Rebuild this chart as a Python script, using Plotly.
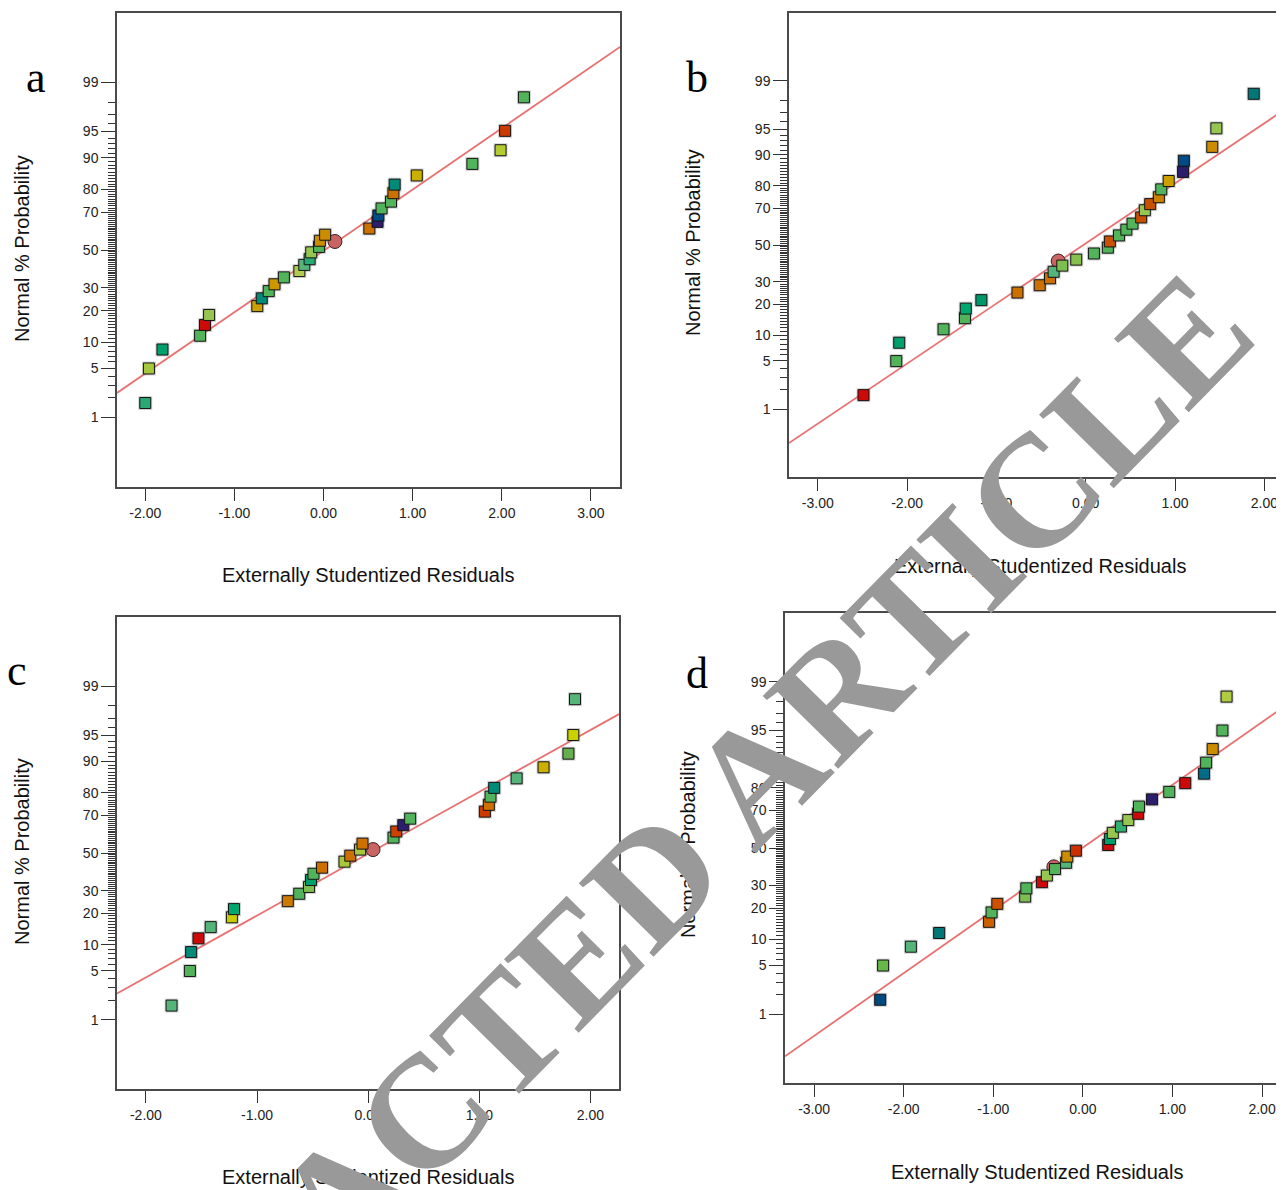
import plotly.graph_objects as go
from statistics import NormalDist

_nd = NormalDist()


def probit(p):
    return _nd.inv_cdf(p / 100.0)


# ---------------- data ----------------
G, GT, GT2, YG, YG2, LG, Y = "#52b45a", "#2aa874", "#00a06c", "#a8c83c", "#96c650", "#7cbe50", "#c8cc00"
GM = "#55b47a"
GOLD, OG, O, OR, R = "#ccb000", "#cc8c00", "#cc7000", "#cc4000", "#cc0a0a"
T, B, IND, TB = "#008a78", "#004a86", "#2c1e6c", "#006c86"
CENTER_COLOR = "#c86464"

# panel a
a_res = [-2.00, -1.959, -1.807, -1.385, -1.330, -1.284, -0.743, -0.693, -0.615, -0.550,
         -0.445, -0.271, -0.216, -0.156, -0.138, -0.050, -0.041, 0.018, 0.514, 0.606,
         0.615, 0.651, 0.757, 0.784, 0.798, 1.046, 1.670, 1.986, 2.037, 2.248]
a_pct = [1.68, 5.0, 8.35, 11.7, 14.9, 18.35, 21.8, 25.1, 28.4, 31.7,
         35.2, 38.5, 41.8, 44.9, 48.7, 51.7, 55.1, 58.4, 61.7, 65.2,
         68.4, 71.8, 74.9, 78.5, 81.8, 84.97, 88.4, 91.7, 95.1, 98.3]
a_col = [GT, YG, GT2, G, R, YG2, "#cca000", T, G, "#cc9600",
         G, "#b0cc50", GM, GT, YG2, G, OG, OG, O, IND,
         B, G, G, O, T, GOLD, G, "#b4cc30", "#cc3a00", G]
a_center = ([0.128], [54.7])
a_line_res = [-2.317, 3.326]
a_line_pct = [2.36, 99.76]

# panel b
b_res = [-2.488, -2.121, -2.088, -1.592, -1.352, -1.343, -1.168, -0.764, -0.515, -0.400,
         -0.359, -0.262, -0.106, 0.092, 0.248, 0.271, 0.373, 0.455, 0.524, 0.621,
         0.662, 0.722, 0.819, 0.846, 0.929, 1.090, 1.099, 1.417, 1.463, 1.881]
b_pct = [1.66, 4.98, 8.29, 11.6, 14.96, 18.35, 21.7, 25.0, 28.4, 31.8,
         35.2, 38.5, 41.8, 45.2, 48.5, 52.0, 55.4, 58.6, 61.9, 65.2,
         68.9, 71.9, 75.1, 78.5, 81.8, 85.0, 88.4, 91.8, 95.1, 98.4]
b_col = [R, G, GT2, G, G, "#00a870", "#009868", O, O, O,
         GM, LG, "#88c050", G, G, "#c85000", G, G, G, "#c85000",
         YG2, "#c85000", "#cc8000", G, "#cca000", IND, B, OG, YG2, "#007878"]
b_center = ([-0.308], [41.0])
b_line_res = [-3.322, 2.23]
b_line_pct = [0.248, 97.28]

# panel c
c_res = [-1.769, -1.604, -1.593, -1.527, -1.417, -1.226, -1.207, -0.723, -0.620, -0.532,
         -0.514, -0.492, -0.415, -0.213, -0.161, -0.073, -0.051, 0.228, 0.253, 0.316,
         0.378, 1.050, 1.086, 1.101, 1.134, 1.336, 1.578, 1.802, 1.846, 1.861]
c_pct = [1.67, 5.0, 8.36, 11.7, 15.06, 18.5, 21.7, 25.1, 28.5, 31.8,
         35.3, 38.6, 41.9, 45.2, 48.5, 51.9, 55.2, 58.5, 61.8, 65.1,
         68.4, 71.8, 74.9, 78.4, 81.8, 85.1, 88.4, 91.7, 95.0, 98.4]
c_col = [GM, G, T, R, GM, Y, "#00a870", "#cc7a00", G, LG,
         GT2, G, O, YG, O, YG, O, G, OR, IND,
         G, "#cc3a00", O, G, T, GM, GOLD, "#66b050", "#c8d200", GM]
c_center = ([0.044], [51.9])
c_line_res = [-2.26, 2.257]
c_line_pct = [2.51, 97.36]

# panel d
d_res = [-2.262, -2.230, -1.920, -1.604, -1.047, -1.019, -0.955, -0.644, -0.631, -0.457,
         -0.402, -0.311, -0.187, -0.174, -0.078, 0.283, 0.302, 0.334, 0.425, 0.507,
         0.617, 0.626, 0.772, 0.964, 1.143, 1.353, 1.376, 1.449, 1.558, 1.604]
d_pct = [1.68, 4.99, 8.35, 11.7, 15.06, 18.35, 21.7, 24.8, 28.6, 31.6,
         35.0, 38.4, 41.8, 45.2, 48.5, 51.7, 55.0, 58.4, 61.8, 65.2,
         68.4, 71.9, 75.2, 78.4, 81.8, 85.1, 88.4, 91.7, 95.0, 98.3]
d_col = ["#004a80", "#66b848", GM, "#007878", "#cc6000", G, "#cc5000", LG, G, R,
         YG2, G, GM, OG, "#cc3000", R, GT2, YG2, "#33b070", YG2,
         R, G, IND, G, R, TB, G, OG, G, "#b0cc40"]
d_center = ([-0.324], [39.6])
d_line_res = [-3.325, 2.244]
d_line_pct = [0.177, 97.6]

major_pct = [1, 5, 10, 20, 30, 50, 70, 80, 90, 95, 99]
minor_pct = [p for p in range(2, 99) if p not in major_pct]
y_range_pct = [0.05, 99.95]

# page offset of the plot div inside the browser body (default 8px margin)
OFF = 8
W, H = 1284 - OFF, 1190 - OFF

panels = {
    "a": dict(res=a_res, pct=a_pct, col=a_col, center=a_center, lx=a_line_res, lp=a_line_pct,
              xr=[-2.317, 3.326], xt=[-2, -1, 0, 1, 2, 3], dom_x=[117, 620], dom_y=[13, 487],
              right=True, ytitle=(22, 249), xtitle=(368, 575), letter=(36, 78)),
    "b": dict(res=b_res, pct=b_pct, col=b_col, center=b_center, lx=b_line_res, lp=b_line_pct,
              xr=[-3.322, 2.22], xt=[-3, -2, -1, 0, 1, 2], dom_x=[789, 1284], dom_y=[13, 477],
              right=False, ytitle=(693, 243), xtitle=(1040, 566), letter=(697, 78)),
    "c": dict(res=c_res, pct=c_pct, col=c_col, center=c_center, lx=c_line_res, lp=c_line_pct,
              xr=[-2.26, 2.257], xt=[-2, -1, 0, 1, 2], dom_x=[117, 619], dom_y=[617, 1089],
              right=True, ytitle=(22, 852), xtitle=(368, 1177), letter=(17, 670)),
    "d": dict(res=d_res, pct=d_pct, col=d_col, center=d_center, lx=d_line_res, lp=d_line_pct,
              xr=[-3.325, 2.245], xt=[-3, -2, -1, 0, 1, 2], dom_x=[785, 1284], dom_y=[613, 1083],
              right=False, ytitle=(688, 845), xtitle=(1037, 1172), letter=(697, 673)),
}


def px(x):
    return (x - OFF) / W


def py(y):
    return 1 - (y - OFF) / H


fig = go.Figure()
annotations = []
layout_axes = {}

for i, (name, p) in enumerate(panels.items(), start=1):
    xa = "x" if i == 1 else f"x{i}"
    ya = "y" if i == 1 else f"y{i}"
    fig.add_trace(go.Scatter(x=p["lx"], y=[probit(v) for v in p["lp"]], mode="lines",
                             line=dict(color="#e87272", width=1.8), xaxis=xa, yaxis=ya,
                             showlegend=False, hoverinfo="skip"))
    zs = [probit(v) for v in p["pct"]]
    fig.add_trace(go.Scatter(x=p["res"], y=zs, mode="markers", xaxis=xa, yaxis=ya,
                             marker=dict(symbol="square", size=14, color="rgba(120,120,120,0.33)",
                                         line=dict(width=0)),
                             showlegend=False, hoverinfo="skip"))
    fig.add_trace(go.Scatter(x=p["center"][0], y=[probit(v) for v in p["center"][1]], mode="markers",
                             xaxis=xa, yaxis=ya,
                             marker=dict(symbol="circle", size=14, color=CENTER_COLOR,
                                         line=dict(color="#3a2020", width=1)),
                             showlegend=False))
    fig.add_trace(go.Scatter(x=p["res"], y=zs, mode="markers", xaxis=xa, yaxis=ya,
                             marker=dict(symbol="square", size=11, color=p["col"],
                                         line=dict(color="#151515", width=1)),
                             showlegend=False))

    kx = "xaxis" if i == 1 else f"xaxis{i}"
    ky = "yaxis" if i == 1 else f"yaxis{i}"
    layout_axes[kx] = dict(
        domain=[px(p["dom_x"][0]), min(1.0, px(p["dom_x"][1]))], range=p["xr"], anchor=ya,
        tickmode="array", tickvals=p["xt"], ticktext=[f"{v:.2f}" for v in p["xt"]],
        ticks="outside", ticklen=12, tickwidth=1.2, tickcolor="#333",
        showline=True, linecolor="#4a4a4a", linewidth=1.5, mirror=True,
        showgrid=False, zeroline=False,
        tickfont=dict(family="Liberation Sans, Arial", size=14, color="#222"),
    )
    layout_axes[ky] = dict(
        domain=[py(p["dom_y"][1]), py(p["dom_y"][0])],
        range=[probit(v) for v in y_range_pct], anchor=xa,
        tickmode="array", tickvals=[probit(v) for v in major_pct],
        ticktext=[str(v) for v in major_pct],
        ticks="outside", ticklen=14, tickwidth=1.2, tickcolor="#333",
        minor=dict(tickmode="array", tickvals=[probit(v) for v in minor_pct],
                   ticks="outside", ticklen=7, tickwidth=1, tickcolor="#333", showgrid=False),
        showline=True, linecolor="#4a4a4a", linewidth=1.5, mirror=p["right"],
        showgrid=False, zeroline=False,
        tickfont=dict(family="Liberation Sans, Arial", size=14, color="#222"),
    )
    annotations.append(dict(text="Normal % Probability", x=px(p["ytitle"][0]), y=py(p["ytitle"][1]),
                            xref="paper", yref="paper", showarrow=False, textangle=-90,
                            font=dict(family="Liberation Sans, Arial", size=20, color="#111"),
                            xanchor="center", yanchor="middle"))
    annotations.append(dict(text="Externally Studentized Residuals", x=px(p["xtitle"][0]),
                            y=py(p["xtitle"][1]), xref="paper", yref="paper", showarrow=False,
                            font=dict(family="Liberation Sans, Arial", size=20, color="#111"),
                            xanchor="center", yanchor="middle"))
    annotations.append(dict(text=name, x=px(p["letter"][0]), y=py(p["letter"][1]),
                            xref="paper", yref="paper", showarrow=False,
                            font=dict(family="Liberation Serif, Times New Roman", size=44, color="#000"),
                            xanchor="center", yanchor="middle"))

# watermark
annotations.append(dict(text="<b>RETRACTED ARTICLE</b>", x=px(606), y=py(928),
                        xref="paper", yref="paper", showarrow=False, textangle=-45.5,
                        font=dict(family="Liberation Serif, Times New Roman", size=160, color="#999999"),
                        xanchor="center", yanchor="middle"))

fig.update_layout(width=W, height=H, margin=dict(l=0, r=0, t=0, b=0),
                  paper_bgcolor="white", plot_bgcolor="white",
                  annotations=annotations, **layout_axes)

fig.write_html("out.html")
